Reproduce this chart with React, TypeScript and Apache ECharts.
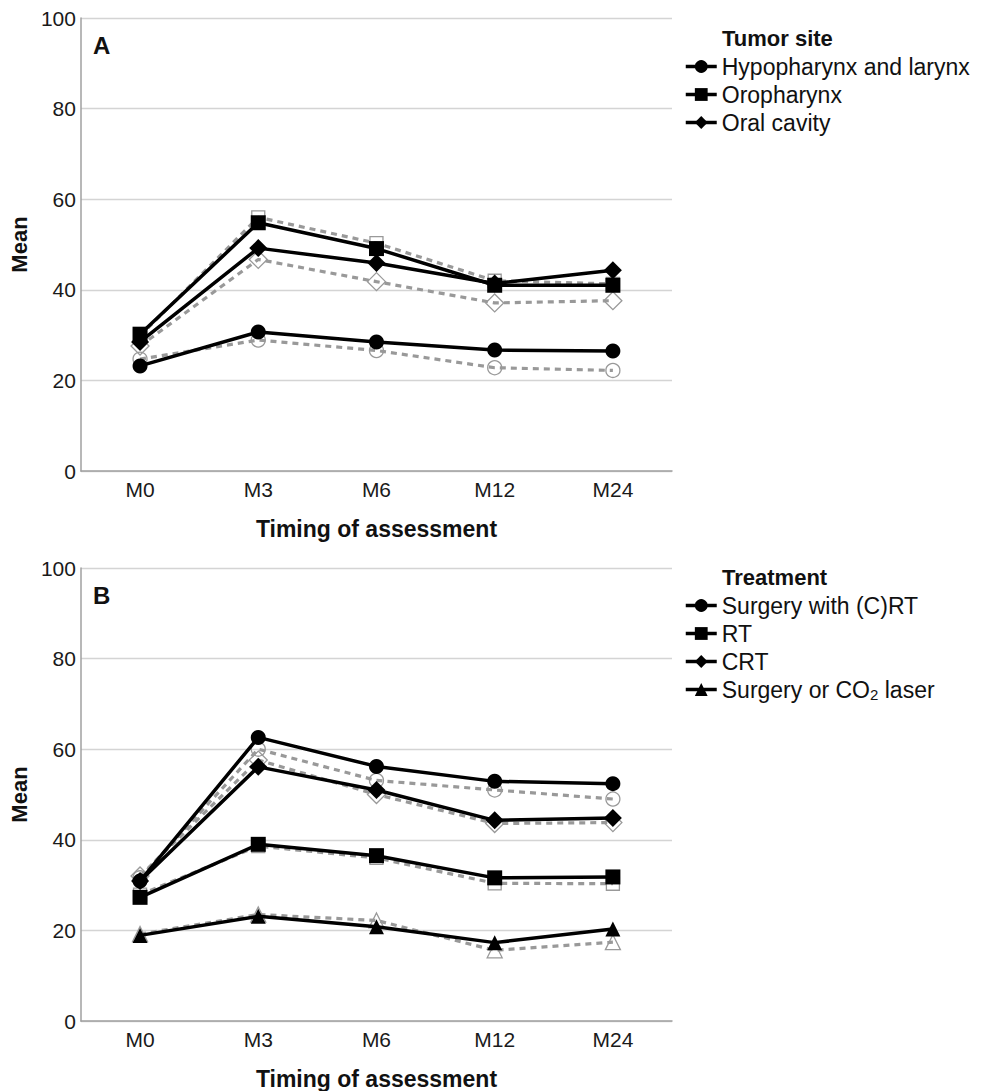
import React, { useEffect, useRef } from "react";
import * as echarts from "echarts";

const categories = ["M0", "M3", "M6", "M12", "M24"];

// Panel A – Tumor site
const siteNames = ["Hypopharynx and larynx", "Oropharynx", "Oral cavity"];
const hypoSolid = [23.2, 30.7, 28.5, 26.7, 26.5];
const hypoDashed = [24.7, 28.9, 26.6, 22.8, 22.2];
const oroSolid = [30.2, 54.8, 49.1, 41.0, 41.0];
const oroDashed = [29.8, 56.0, 50.3, 42.0, 41.3];
const oralSolid = [28.5, 49.2, 45.9, 41.4, 44.3];
const oralDashed = [27.6, 46.7, 41.8, 37.1, 37.6];

// Panel B – Treatment
const treatNames = ["Surgery with (C)RT", "RT", "CRT", "Surgery or CO2 laser"];
const surgCrtSolid = [30.9, 62.6, 56.2, 52.9, 52.4];
const surgCrtDashed = [31.6, 60.0, 53.1, 51.0, 49.0];
const rtSolid = [27.3, 39.0, 36.5, 31.6, 31.8];
const rtDashed = [27.9, 38.6, 36.0, 30.4, 30.3];
const crtSolid = [30.9, 56.1, 51.0, 44.3, 44.8];
const crtDashed = [32.0, 57.6, 50.0, 43.6, 43.8];
const laserSolid = [18.9, 23.1, 20.8, 17.3, 20.3];
const laserDashed = [19.2, 23.5, 22.2, 15.6, 17.4];

const yTicks = [0, 20, 40, 60, 80, 100];

const FONT = "Liberation Sans, Arial, Helvetica, sans-serif";

export default function App() {
  const ref = useRef<HTMLDivElement>(null);
  useEffect(() => {
    if (!ref.current) return;
    const chart = echarts.init(ref.current, undefined, { renderer: "svg" });

    const solid = (name: string, data: number[], symbol: string, size: number, idx: number) => ({
      name,
      type: "line",
      xAxisIndex: idx,
      yAxisIndex: idx,
      data,
      symbol,
      symbolSize: size,
      z: 5,
      lineStyle: { color: "#000", width: 3.5, type: "solid" },
      itemStyle: { color: "#000", borderColor: "#000", borderWidth: 0 },
      emphasis: { disabled: true },
    });
    const dashed = (name: string, data: number[], symbol: string, size: number, idx: number) => ({
      name,
      type: "line",
      xAxisIndex: idx,
      yAxisIndex: idx,
      data,
      symbol,
      symbolSize: size,
      z: 3,
      lineStyle: { color: "#999", width: 3.2, type: [6, 5] },
      itemStyle: { color: "rgba(255,255,255,0)", borderColor: "#999", borderWidth: 1.3 },
      emphasis: { disabled: true },
    });

    const grids = [
      { left: 77, top: 18, width: 595, height: 453 },
      { left: 77, top: 568, width: 595, height: 454 },
    ];

    const xAxis = [0, 1].map((i) => ({
      type: "category",
      gridIndex: i,
      data: categories,
      boundaryGap: true,
      axisLine: { lineStyle: { color: "#a0a0a0", width: 1.5 } },
      axisTick: { show: false },
      axisLabel: { color: "#1a1a1a", fontSize: 21, fontFamily: FONT, margin: 8 },
      name: "Timing of assessment",
      nameLocation: "middle",
      nameGap: 46,
      nameTextStyle: { color: "#111", fontSize: 23, fontWeight: "bold", fontFamily: FONT },
    }));
    const yAxis = [0, 1].map((i) => ({
      type: "value",
      gridIndex: i,
      min: 0,
      max: 100,
      interval: 20,
      axisLine: { show: true, lineStyle: { color: "#a0a0a0", width: 1.5 } },
      axisTick: { show: false },
      splitLine: { lineStyle: { color: "#d4d4d4", width: 1.3 } },
      axisLabel: {
        color: "#1a1a1a",
        fontSize: 21,
        fontFamily: FONT,
        margin: 5,
        formatter: (v: number) => (yTicks.includes(v) ? String(v) : ""),
      },
      name: "Mean",
      nameLocation: "middle",
      nameGap: 44,
      nameTextStyle: { color: "#111", fontSize: 22, fontWeight: "bold", fontFamily: FONT },
    }));

    const legendBase = {
      orient: "vertical",
      left: 679,
      itemWidth: 31,
      itemHeight: 16,
      itemGap: 5,
      selectedMode: false,
      lineStyle: { width: 3.5 },
      textStyle: { fontSize: 23, lineHeight: 22, color: "#111", fontFamily: FONT },
    };

    const option = {
      animation: false,
      backgroundColor: "#fff",
      grid: grids,
      xAxis,
      yAxis,
      title: [
        { text: "A", left: 88, top: 28, textStyle: { fontSize: 24, fontWeight: "bold", color: "#111", fontFamily: FONT } },
        { text: "B", left: 88, top: 578, textStyle: { fontSize: 24, fontWeight: "bold", color: "#111", fontFamily: FONT } },
        { text: "Tumor site", left: 717, top: 22, textStyle: { fontSize: 22, fontWeight: "bold", color: "#111", fontFamily: FONT } },
        { text: "Treatment", left: 717, top: 561, textStyle: { fontSize: 22, fontWeight: "bold", color: "#111", fontFamily: FONT } },
      ],
      legend: [
        { ...legendBase, data: siteNames, top: 50 },
        {
          ...legendBase,
          data: treatNames,
          top: 589,
          formatter: (n: string) => (n === "Surgery or CO2 laser" ? "Surgery or CO{sub|2} laser" : n),
          textStyle: {
            ...legendBase.textStyle,
            rich: { sub: { fontSize: 15, color: "#111", fontFamily: FONT, padding: [10, 0, 0, 0] } },
          },
        },
      ],
      series: [
        dashed("Hypopharynx and larynx (dashed)", hypoDashed, "circle", 14, 0),
        dashed("Oropharynx (dashed)", oroDashed, "rect", 13, 0),
        dashed("Oral cavity (dashed)", oralDashed, "diamond", 18, 0),
        solid(siteNames[0], hypoSolid, "circle", 15, 0),
        solid(siteNames[1], oroSolid, "rect", 15, 0),
        solid(siteNames[2], oralSolid, "diamond", 18, 0),
        dashed("Surgery with (C)RT (dashed)", surgCrtDashed, "circle", 14, 1),
        dashed("RT (dashed)", rtDashed, "rect", 13, 1),
        dashed("CRT (dashed)", crtDashed, "diamond", 18, 1),
        dashed("Surgery or CO2 laser (dashed)", laserDashed, "triangle", 15, 1),
        solid(treatNames[0], surgCrtSolid, "circle", 15, 1),
        solid(treatNames[1], rtSolid, "rect", 15, 1),
        solid(treatNames[2], crtSolid, "diamond", 18, 1),
        solid(treatNames[3], laserSolid, "triangle", 15, 1),
      ],
    };
    chart.setOption(option as any);
    return () => chart.dispose();
  }, []);
  return (
    <div
      ref={ref}
      style={{ position: "fixed", left: 0, top: 0, width: 988, height: 1091, background: "#fff" }}
    />
  );
}
